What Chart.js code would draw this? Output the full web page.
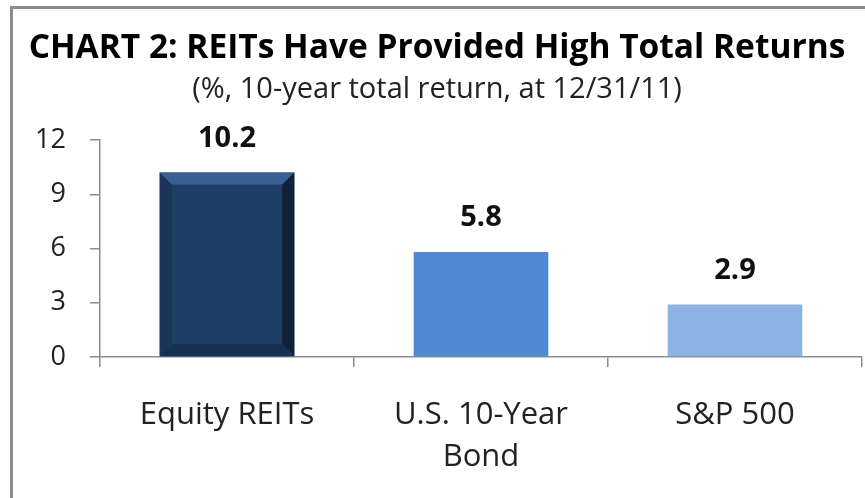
<!DOCTYPE html>
<html>
<head>
<meta charset="utf-8">
<script src="https://cdn.jsdelivr.net/npm/chart.js@4.4.1/dist/chart.umd.min.js"></script>
<style>
    body { margin: 0; background: #fff; }
    #frame {
        position: absolute; left: 10px; top: 6px; width: 900px; height: 520px;
        border-left: 3px solid #8c8c8c; border-top: 3px solid #8c8c8c;
    }
    #wrap { position: absolute; left: 0; top: 0; width: 865px; height: 498px; }
</style>
</head>
<body>
<div id="frame"></div>
<div id="wrap"><canvas id="chart" width="865" height="498"></canvas></div>
<script>
const categories = [['Equity REITs'], ['U.S. 10-Year', 'Bond'], ['S&P 500']];
const returns = [10.2, 5.8, 2.9];
const yTicks = [0, 3, 6, 9, 12];
const barColors = ['#1f3e66', '#4f88d3', '#8cb3e3'];

const FONT = '"Open Sans", Lato, sans-serif';

// value labels above each bar
const valueLabels = {
    id: 'valueLabels',
    afterDatasetsDraw(chart) {
        const ctx = chart.ctx;
        const meta = chart.getDatasetMeta(0);
        ctx.save();
        ctx.font = 'bold 29px ' + FONT;
        ctx.fillStyle = '#111';
        ctx.textAlign = 'center';
        ctx.textBaseline = 'middle';
        meta.data.forEach((bar, i) => {
            ctx.fillText(returns[i].toFixed(1), bar.x, bar.y - 34);
        });
        ctx.restore();
    }
};

// bevel look on the first bar
const bevel = {
    id: 'bevel',
    afterDatasetsDraw(chart) {
        const bar = chart.getDatasetMeta(0).data[0];
        const ctx = chart.ctx;
        const l = bar.x - bar.width / 2, r = bar.x + bar.width / 2;
        const t = bar.y, b = bar.base, d = 12;
        ctx.save();
        ctx.fillStyle = '#3a5f92';
        ctx.beginPath();
        ctx.moveTo(l, t); ctx.lineTo(r, t); ctx.lineTo(r - d, t + d); ctx.lineTo(l + d, t + d);
        ctx.fill();
        ctx.fillStyle = '#10213a';
        ctx.beginPath();
        ctx.moveTo(r, t); ctx.lineTo(r, b); ctx.lineTo(r - d, b - d); ctx.lineTo(r - d, t + d);
        ctx.fill();
        ctx.fillStyle = '#172f50';
        ctx.beginPath();
        ctx.moveTo(l, b); ctx.lineTo(r, b); ctx.lineTo(r - d, b - d); ctx.lineTo(l + d, b - d);
        ctx.fill();
        ctx.fillStyle = '#1a3559';
        ctx.beginPath();
        ctx.moveTo(l, t); ctx.lineTo(l + d, t + d); ctx.lineTo(l + d, b - d); ctx.lineTo(l, b);
        ctx.fill();
        ctx.restore();
    }
};

new Chart(document.getElementById('chart'), {
    type: 'bar',
    data: {
        labels: categories,
        datasets: [{
            data: returns,
            backgroundColor: barColors,
            borderWidth: 0,
            barPercentage: 0.53,
            categoryPercentage: 1.0
        }]
    },
    options: {
        responsive: false,
        animation: false,
        layout: { padding: { left: 12, right: 3, top: 0, bottom: 0 } },
        plugins: {
            legend: { display: false },
            tooltip: { enabled: false },
            title: {
                display: true,
                text: 'CHART 2: REITs Have Provided High Total Returns',
                color: '#000',
                font: { family: FONT, size: 33.5, weight: 'bold', lineHeight: 1.2 },
                padding: { top: 28, bottom: 0 }
            },
            subtitle: {
                display: true,
                text: '(%, 10-year total return, at 12/31/11)',
                color: '#222',
                font: { family: FONT, size: 29, lineHeight: 1.2 },
                padding: { top: 4, bottom: 33 }
            }
        },
        scales: {
            y: {
                min: 0,
                max: 12,
                afterBuildTicks(scale) {
                    scale.ticks = yTicks.map(v => ({ value: v }));
                },
                afterFit(scale) { scale.width = 88; },
                border: { display: true, color: '#8c8c8c', width: 1.5 },
                grid: { drawOnChartArea: false, drawTicks: true, tickLength: 10, color: '#8c8c8c', lineWidth: 1.5 },
                ticks: {
                    color: '#222',
                    padding: 24,
                    font: { family: FONT, size: 27 }
                }
            },
            x: {
                afterFit(scale) { scale.height = 141; },
                border: { display: true, color: '#8c8c8c', width: 1.5 },
                grid: { drawOnChartArea: false, drawTicks: true, tickLength: 10, color: '#8c8c8c', lineWidth: 1.5, offset: true },
                ticks: {
                    color: '#222',
                    padding: 28,
                    maxRotation: 0,
                    font: { family: FONT, size: 31, lineHeight: 1.33 }
                }
            }
        }
    },
    plugins: [bevel, valueLabels]
});
</script>
</body>
</html>
